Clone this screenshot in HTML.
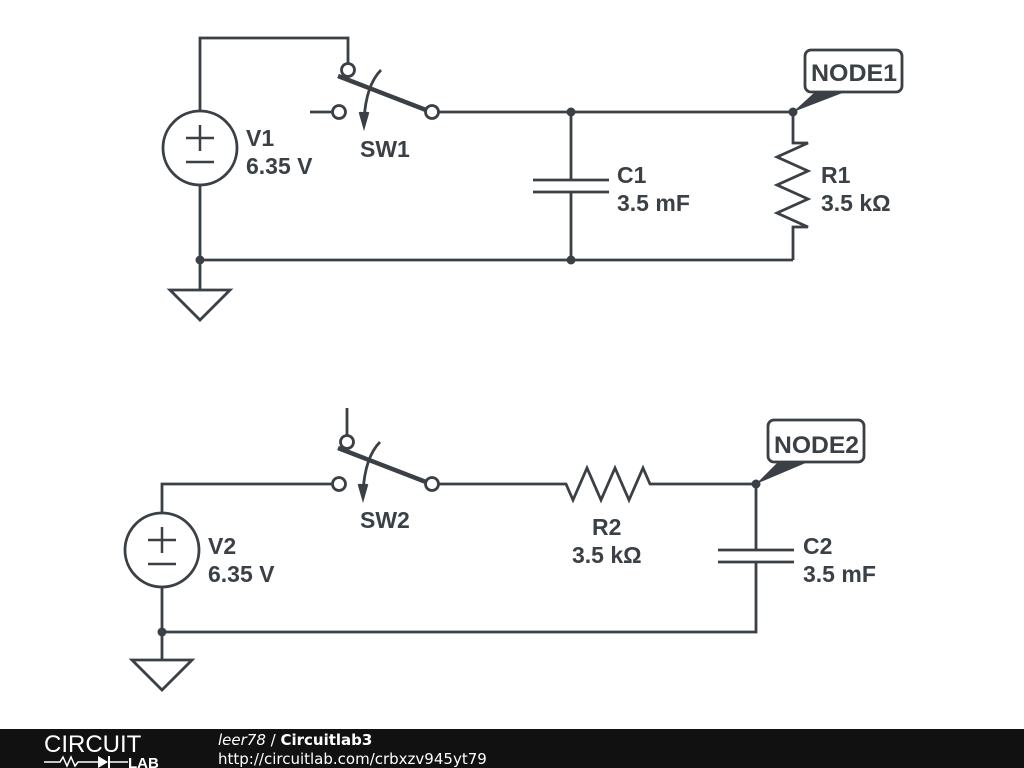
<!DOCTYPE html>
<html><head><meta charset="utf-8"><style>
html,body{margin:0;padding:0;background:#fff;width:1024px;height:768px;overflow:hidden}
text{font-family:"Liberation Sans",sans-serif;font-weight:bold;fill:#3a4045}
</style></head><body>
<svg width="1024" height="768" viewBox="0 0 1024 768" xmlns="http://www.w3.org/2000/svg">
<g stroke="#3a4045" stroke-width="2.8" fill="none" stroke-linejoin="miter">
<polyline points="200,111 200,38 348,38 348,64"/>
<circle cx="348" cy="70" r="6.5" fill="#fff"/>
<line x1="338" y1="76" x2="426" y2="110" stroke-width="4.5"/>
<circle cx="432" cy="112" r="6.5" fill="#fff"/>
<line x1="310" y1="112" x2="332" y2="112"/>
<circle cx="339" cy="112" r="6.5" fill="#fff"/>
<path d="M381,70 Q366,85 364,120"/>
<polyline points="360,112 364,126 368,112" fill="#3a4045"/>
<line x1="438" y1="112" x2="793" y2="112"/>
<circle cx="200" cy="148" r="37"/>
<line x1="200" y1="185" x2="200" y2="290"/>
<polygon points="170,290 230,290 200,320"/>
<line x1="200" y1="260" x2="793" y2="260"/>
<line x1="571" y1="112" x2="571" y2="180"/>
<line x1="571" y1="192" x2="571" y2="260"/>
<line x1="533" y1="180" x2="609" y2="180"/>
<line x1="533" y1="192" x2="609" y2="192"/>
<polyline points="793,112 793,143 808,143 777,157 808,171 777,185 808,199 777,213 808,227 793,227 793,260"/>
<rect x="805" y="50" width="97" height="42" rx="6" fill="#fff"/>
<line x1="347" y1="408" x2="347" y2="436"/>
<circle cx="347" cy="442" r="6.5" fill="#fff"/>
<line x1="338" y1="448" x2="426" y2="482" stroke-width="4.5"/>
<circle cx="432" cy="484" r="6.5" fill="#fff"/>
<circle cx="339" cy="484" r="6.5" fill="#fff"/>
<path d="M380,442 Q365,457 363,492"/>
<polyline points="359,484 363,498 367,484" fill="#3a4045"/>
<polyline points="162,513 162,484 333,484"/>
<polyline points="438,484 566,484 573,500 587,468 601,500 615,468 629,500 643,468 650,484 756,484 756,550"/>
<line x1="718" y1="550" x2="794" y2="550"/>
<line x1="718" y1="562" x2="794" y2="562"/>
<polyline points="756,562 756,632 162,632"/>
<circle cx="162" cy="550" r="37"/>
<line x1="162" y1="587" x2="162" y2="660"/>
<polygon points="132,660 192,660 162,690"/>
<rect x="768" y="420" width="96" height="42" rx="6" fill="#fff"/>
</g>
<g stroke="#3a4045" stroke-width="2.5">
<line x1="186" y1="138" x2="214" y2="138"/><line x1="200" y1="125" x2="200" y2="151"/>
<line x1="186" y1="162" x2="214" y2="162"/>
<line x1="148" y1="540" x2="176" y2="540"/><line x1="162" y1="527" x2="162" y2="553"/>
<line x1="148" y1="564" x2="176" y2="564"/>
</g>
<g fill="#3a4045">
<circle cx="571" cy="112" r="4.5"/><circle cx="793" cy="112" r="4.5"/>
<circle cx="200" cy="260" r="4.5"/><circle cx="571" cy="260" r="4.5"/>
<circle cx="756" cy="484" r="4.5"/><circle cx="162" cy="632" r="4.5"/>
<polygon points="793,112 815,92 845,92"/>
<polygon points="756,484 778,462 808,462"/>
</g>
<g font-size="23">
<text x="246" y="146">V1</text><text x="246" y="174">6.35 V</text>
<text x="360" y="157">SW1</text>
<text x="617" y="183">C1</text><text x="617" y="211">3.5 mF</text>
<text x="821" y="183">R1</text><text x="821" y="211">3.5 kΩ</text>
<text x="208" y="554">V2</text><text x="208" y="582">6.35 V</text>
<text x="360" y="528">SW2</text>
<text x="592" y="535">R2</text><text x="572" y="563">3.5 kΩ</text>
<text x="803" y="554">C2</text><text x="803" y="582">3.5 mF</text>
</g>
<text x="811" y="81" font-size="24" textLength="86" lengthAdjust="spacingAndGlyphs">NODE1</text>
<text x="774" y="453" font-size="24" textLength="85" lengthAdjust="spacingAndGlyphs">NODE2</text>
<rect x="0" y="729" width="1024" height="39" fill="#111"/>
<text x="44" y="752" font-size="24" style="font-weight:normal;fill:#fff">CIRCUIT</text>
<polyline points="44,762 60,762 63,757 67,766 71,757 75,766 78,762 98,762" stroke="#fff" stroke-width="1.5" fill="none"/>
<polygon points="98,756 98,768 108,762" fill="#fff"/><line x1="109" y1="756" x2="109" y2="768" stroke="#fff" stroke-width="2"/>
<line x1="109" y1="762" x2="128" y2="762" stroke="#fff" stroke-width="1.5"/>
<text x="128" y="768" font-size="15" style="fill:#fff">LAB</text>
<text x="218" y="745" font-size="15" style="fill:#fff;font-family:'DejaVu Sans',sans-serif"><tspan style="font-weight:normal;font-style:italic">leer78</tspan><tspan style="font-weight:normal"> / </tspan>Circuitlab3</text>
<text x="218" y="764" font-size="15" style="fill:#fff;font-weight:normal;font-family:'DejaVu Sans',sans-serif">http://circuitlab.com/crbxzv945yt79</text>
</svg>
</body></html>
